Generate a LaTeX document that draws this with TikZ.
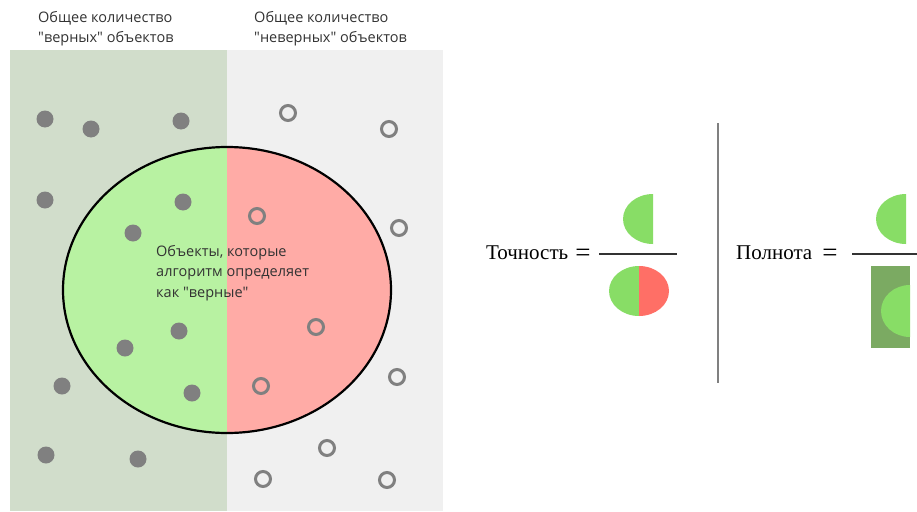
\documentclass[tikz,border=0pt]{standalone}
\usepackage{fontspec}
\setmainfont{Liberation Serif}
\newfontfamily\labelfont{Open Sans}
\definecolor{bgtrue}{HTML}{D1DDCB}
\definecolor{bgfalse}{HTML}{F0F0F0}
\definecolor{elgreen}{HTML}{B8F2A2}
\definecolor{elred}{HTML}{FFABA6}
\definecolor{dotgray}{HTML}{808080}
\definecolor{fgreen}{HTML}{88DD66}
\definecolor{fred}{HTML}{FF6F66}
\definecolor{fdark}{HTML}{7BAA62}
\definecolor{txt}{HTML}{333333}
\newcommand{\bigeq}{\raisebox{-2pt}{\fontsize{27}{27}\selectfont =}}
\begin{document}
\begin{tikzpicture}[x=1pt,y=-1pt,
  lbl/.style={font=\labelfont\fontsize{14.5}{20.5}\selectfont, text=txt, align=left, inner sep=0pt, anchor=north west},
  fulldot/.style={circle, fill=dotgray, minimum size=17pt, inner sep=0pt},
  emptydot/.style={circle, draw=dotgray, line width=3pt, minimum size=15pt, inner sep=0pt},
  formula/.style={font=\fontsize{21}{24}\selectfont, inner sep=0pt, anchor=base west},
  fracline/.style={draw=black!80, line width=1.2pt}]
\useasboundingbox (0,0) rectangle (917,511);
\fill[white] (0,0) rectangle (917,511);
% backgrounds
\fill[bgtrue] (10,50) rectangle (227,511);
\fill[bgfalse] (227,50) rectangle (443,511);
% big ellipse
\begin{scope}
  \clip (0,0) rectangle (227,511);
  \fill[elgreen] (227,290) ellipse [x radius=164, y radius=143];
\end{scope}
\begin{scope}
  \clip (227,0) rectangle (450,511);
  \fill[elred] (227,290) ellipse [x radius=164, y radius=143];
\end{scope}
\draw[line width=2.2pt, black] (227,290) ellipse [x radius=164, y radius=143];
% labels
\node[lbl] (ltrue) at (38,11) {Общее количество\\"верных" объектов};
\node[lbl] (lfalse) at (254,11) {Общее количество\\"неверных" объектов};
\node[lbl] (lalg) at (156,245) {Объекты, которые\\алгоритм определяет\\как "верные"};
% full dots
\node[fulldot] (d1) at (45,119) {};
\node[fulldot] (d2) at (91,129) {};
\node[fulldot] (d3) at (181,121) {};
\node[fulldot] (d4) at (45,200) {};
\node[fulldot] (d5) at (183,202) {};
\node[fulldot] (d6) at (133,233) {};
\node[fulldot] (d7) at (179,331) {};
\node[fulldot] (d8) at (125,348) {};
\node[fulldot] (d9) at (62,386) {};
\node[fulldot] (d10) at (192,393) {};
\node[fulldot] (d11) at (46,455) {};
\node[fulldot] (d12) at (138,459) {};
% empty dots
\node[emptydot] (e1) at (288,113) {};
\node[emptydot] (e2) at (389,129) {};
\node[emptydot] (e3) at (257,216) {};
\node[emptydot] (e4) at (399,228) {};
\node[emptydot] (e5) at (316,327) {};
\node[emptydot] (e6) at (397,377) {};
\node[emptydot] (e7) at (261,386) {};
\node[emptydot] (e8) at (327,448) {};
\node[emptydot] (e9) at (263,479) {};
\node[emptydot] (e10) at (387,480) {};
% separator
\coordinate (s1) at (718,123);
\coordinate (s2) at (718,383);
\draw[gray, line width=1.2pt] (s1) -- (s2);
% precision
\node[formula] (prec) at (486,259) {Точность\kern7pt\bigeq};
\coordinate (pf1) at (599,254);
\coordinate (pf2) at (677,254);
\draw[fracline] (pf1) -- (pf2);
\begin{scope}
  \clip (600,180) rectangle (653,250);
  \fill[fgreen] (653,219) ellipse [x radius=30, y radius=25];
\end{scope}
\begin{scope}
  \clip (600,260) rectangle (639,320);
  \fill[fgreen] (639,291) ellipse [x radius=30, y radius=25];
\end{scope}
\begin{scope}
  \clip (639,260) rectangle (680,320);
  \fill[fred] (639,291) ellipse [x radius=30, y radius=25];
\end{scope}
% recall
\node[formula] (rec) at (736,259) {Полнота\kern10pt\bigeq};
\coordinate (rf1) at (852,254);
\coordinate (rf2) at (917,254);
\draw[fracline] (rf1) -- (rf2);
\begin{scope}
  \clip (860,180) rectangle (906,250);
  \fill[fgreen] (906,219) ellipse [x radius=30, y radius=25];
\end{scope}
\fill[fdark] (871,266) rectangle (910,348);
\begin{scope}
  \clip (871,266) rectangle (910,348);
  \fill[fgreen] (910,311) ellipse [x radius=29, y radius=26];
\end{scope}
\end{tikzpicture}
\end{document}
